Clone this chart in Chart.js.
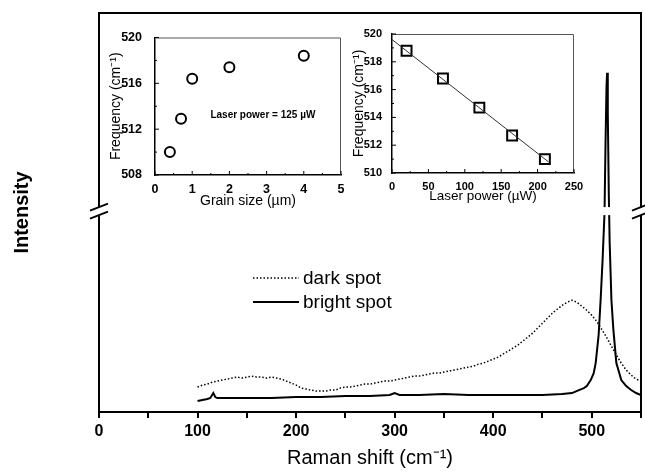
<!DOCTYPE html>
<html><head><meta charset="utf-8">
<script src="https://cdn.jsdelivr.net/npm/chart.js@4/dist/chart.umd.min.js"></script>
<style>
html,body{margin:0;padding:0;background:#fff;}
#wrap{position:relative;width:645px;height:472px;overflow:hidden;}
canvas{position:absolute;}
#main{left:0;top:0;}
#in1{left:100px;top:25px;}
#in2{left:340px;top:25px;}
</style></head><body>
<div id="wrap">
<canvas id="main" width="645" height="472" style="width:645px;height:472px"></canvas>
<canvas id="in1" width="250" height="190" style="width:250px;height:190px"></canvas>
<canvas id="in2" width="245" height="190" style="width:245px;height:190px"></canvas>
</div>
<script>
// ---------- DATA ----------
const ramanDark = [100,105,110,115,120,125,130,135,140,145,150,155,160,165,170,175,180,185,190,195,200,205,210,215,220,225,230,235,240,245,250,255,260,265,270,275,280,285,290,295,300,305,310,315,320,325,330,335,340,345,350,355,360,365,370,375,380,385,390,395,400,405,410,415,420,425,430,435,440,445,450,455,460,465,470,475,480,485,490,495,500,505,510,515,520,525,530,535,540,545,550];
const darkIntensity = [12.5,13.5,14,15,15.5,16,16.5,17,17.5,17,17.5,18,17.5,17.5,17,17.5,17,16.5,15.5,14.5,13.5,12,11.5,11,10.5,10.5,10.5,11,11,12,12.5,12.5,13,13.5,14,14,14.5,15,15.5,15.5,16,16.5,17,17.5,18,18,18.5,19,19.5,19.5,20,20.5,21,21.5,22,22.5,23,24,24.5,25.5,26.5,27.5,29,30.5,32,33.5,35.5,37.5,39.5,42,44.5,47,49.5,51.5,53.5,55,56,55,53,51,48.5,45.5,41.5,37.5,33,28.5,24.5,21,18.5,16.5,15.5];
const ramanBright = [100,105,110,113,116,118,120,130,150,175,200,225,250,275,295,300,305,325,350,375,400,425,450,470,480,487,492,495,499,502,504,507,509,511,513,514,515,515.6,516.3,517.3,518.2,520,522,525,530,535,540,545,550];
const brightIntensity = [5.5,6,6.5,7,9.5,7.5,7,7,7,7,7.5,7.5,8,8,8.5,9.5,8.5,8.5,9,8.5,8.5,8.5,8.5,9,9.5,11,12,13,16,19.5,24.5,38.5,56,76,100,135,163,170,150,110,85,56,41,24.5,16,13,11,9.5,8.5];
const seriesLabels = ['dark spot','bright spot'];
const xTickStep = 50;
const breakValue = 100.7;

const grainSize = [0.4,0.7,1.0,2.0,4.0];
const grainFreq = [510.0,512.9,516.4,517.4,518.4];
const annotText = 'Laser power = 125 \u00B5W';
const annotPos = [2.9, 513.2];

const laserPower = [20,70,120,165,210];
const laserFreq = [518.8,516.8,514.7,512.7,511.0];
const fitX = [0,215];
const fitY = [519.6,510.8];

const FONT = "'Liberation Sans', Arial, sans-serif";
const pts = (xs, ys) => xs.map((x,i)=>({x, y: ys[i]}));

// ---------- MAIN CHART ----------
const mainDecor = {
  id:'mainDecor',
  afterDatasetsDraw(chart){
    const {ctx, chartArea:a, scales:{y}} = chart;
    ctx.save();
    ctx.strokeStyle='#000'; ctx.lineWidth=2;
    ctx.strokeRect(a.left, a.top, a.right-a.left, a.bottom-a.top);
    const yb = y.getPixelForValue(breakValue);
    ctx.fillStyle='#fff';
    ctx.fillRect(a.left-12, yb-4, a.right-a.left+24, 8);
    ctx.lineWidth=2;
    [a.left, a.right].forEach(x=>{
      [yb-4, yb+4].forEach(c=>{
        ctx.beginPath(); ctx.moveTo(x-9, c+3.5); ctx.lineTo(x+9, c-3.5); ctx.stroke();
      });
    });
    // legend
    const lx = 253, ly = 278, gap = 24;
    chart.data.datasets.forEach((ds,i)=>{
      const yy = ly + i*gap;
      ctx.setLineDash(ds.borderDash||[]);
      ctx.lineWidth = ds.borderWidth;
      ctx.beginPath(); ctx.moveTo(lx, yy); ctx.lineTo(lx+46, yy); ctx.stroke();
      ctx.setLineDash([]);
      ctx.fillStyle='#000'; ctx.font = `19px ${FONT}`; ctx.textBaseline='middle';
      ctx.fillText(ds.label, lx+50, yy+1);
    });
    ctx.restore();
  }
};

new Chart(document.getElementById('main'), {
  type:'scatter',
  data:{datasets:[
    {label:seriesLabels[0], data:pts(ramanDark,darkIntensity), showLine:true, borderColor:'#000', borderWidth:1.5, borderDash:[1.5,2], pointRadius:0, tension:0},
    {label:seriesLabels[1], data:pts(ramanBright,brightIntensity), showLine:true, borderColor:'#000', borderWidth:2, pointRadius:0, tension:0}
  ]},
  options:{
    responsive:false, animation:false, devicePixelRatio:1,
    layout:{padding:{top:13,right:2,left:0,bottom:0}},
    plugins:{legend:{display:false}, tooltip:{enabled:false}},
    scales:{
      x:{type:'linear', min:0, max:550, afterFit(s){s.height=60;},
        border:{display:false},
        grid:{display:true, drawOnChartArea:false, drawTicks:true, tickLength:6, lineWidth:2, color:'#000'},
        ticks:{stepSize:xTickStep, autoSkip:false, maxRotation:0, padding:4, color:'#000',
          font:{family:FONT, size:16, weight:'bold'}, callback:v=> v%100===0 ? String(v) : ''},
        title:{display:true, text:'Raman shift (cm\u207B\u00B9)', color:'#000', font:{family:FONT, size:20}, padding:{top:0,bottom:2}}
      },
      y:{min:0, max:200, afterFit(s){s.width=99;}, border:{display:false}, grid:{display:false}, ticks:{display:false},
        title:{display:true, text:'Intensity', color:'#000', font:{family:FONT, size:20, weight:'bold'}, padding:{top:10,bottom:0}}
      }
    }
  },
  plugins:[mainDecor]
});

// ---------- INSETS ----------
function insetDecor(annot){
  return {
    id:'insetDecor',
    afterDraw(chart){
      const {ctx, chartArea:a, scales:{x,y}} = chart;
      ctx.save();
      ctx.strokeStyle='#555'; ctx.lineWidth=1;
      ctx.beginPath(); ctx.moveTo(a.left, a.top+0.5); ctx.lineTo(a.right-0.5, a.top+0.5); ctx.lineTo(a.right-0.5, a.bottom); ctx.stroke();
      ctx.strokeStyle='#000';
      const xt = x.ticks.map(t=>t.value), yt = y.ticks.map(t=>t.value);
      xt.forEach((v,i)=>{
        const px = x.getPixelForValue(v);
        ctx.beginPath(); ctx.moveTo(px, a.bottom); ctx.lineTo(px, a.bottom-4); ctx.stroke();
        if(i<xt.length-1){ const pm = x.getPixelForValue((v+xt[i+1])/2);
          ctx.beginPath(); ctx.moveTo(pm, a.bottom); ctx.lineTo(pm, a.bottom-2); ctx.stroke(); }
      });
      yt.forEach((v,i)=>{
        const py = y.getPixelForValue(v);
        ctx.beginPath(); ctx.moveTo(a.left, py); ctx.lineTo(a.left+4, py); ctx.stroke();
        if(i<yt.length-1){ const pm = y.getPixelForValue((v+yt[i+1])/2);
          ctx.beginPath(); ctx.moveTo(a.left, pm); ctx.lineTo(a.left+2, pm); ctx.stroke(); }
      });
      if(annot){
        ctx.fillStyle='#000'; ctx.font=`bold 10px ${FONT}`; ctx.textAlign='center'; ctx.textBaseline='middle';
        ctx.fillText(annot.text, x.getPixelForValue(annot.pos[0]), y.getPixelForValue(annot.pos[1]));
      }
      ctx.restore();
    }
  };
}
function insetScales(o){
  return {
    x:{type:'linear', min:o.xmin, max:o.xmax, afterFit(s){s.height=o.xh;},
      border:{display:true, color:'#000', width:1.5},
      grid:{display:false},
      ticks:{stepSize:o.xstep, autoSkip:false, maxRotation:0, padding:0, color:'#000', font:{family:FONT, size:o.tf, weight:'bold', lineHeight:1}},
      title:{display:true, text:o.xtitle, color:'#000', font:{family:FONT, size:o.titf}, padding:{top:0,bottom:o.xtp}}
    },
    y:{min:o.ymin, max:o.ymax, afterFit(s){s.width=o.yw;},
      border:{display:true, color:'#000', width:1.5},
      grid:{display:false},
      ticks:{stepSize:o.ystep, autoSkip:false, padding:o.ypad, color:'#000', font:{family:FONT, size:o.tf, weight:'bold'}},
      title:{display:true, text:'Frequency (cm\u207B\u00B9)', color:'#000', font:{family:FONT, size:14}, padding:{top:o.ytp,bottom:0}}
    }
  };
}

new Chart(document.getElementById('in1'), {
  type:'scatter',
  data:{datasets:[{data:pts(grainSize,grainFreq), pointStyle:'circle', pointRadius:5, pointBorderWidth:2, pointBorderColor:'#000', pointBackgroundColor:'rgba(0,0,0,0)'}]},
  options:{responsive:false, animation:false, devicePixelRatio:1,
    layout:{padding:{top:8,right:9,left:0,bottom:0}},
    plugins:{legend:{display:false}, tooltip:{enabled:false}},
    scales:insetScales({xmin:0,xmax:5,xstep:1,ymin:508,ymax:520,ystep:4,xh:40,yw:55,xtp:5.6,ytp:7.6,ypad:5,tf:12.5,titf:14,xtitle:'Grain size (\u00B5m)'})
  },
  plugins:[insetDecor({text:annotText,pos:annotPos})]
});

new Chart(document.getElementById('in2'), {
  type:'scatter',
  data:{datasets:[
    {data:pts(fitX,fitY), showLine:true, borderColor:'#333', borderWidth:1, pointRadius:0},
    {data:pts(laserPower,laserFreq), pointStyle:'rect', pointRadius:7, pointBorderWidth:2, pointBorderColor:'#000', pointBackgroundColor:'rgba(0,0,0,0)'}
  ]},
  options:{responsive:false, animation:false, devicePixelRatio:1,
    layout:{padding:{top:9,right:11,left:0,bottom:0}},
    plugins:{legend:{display:false}, tooltip:{enabled:false}},
    scales:insetScales({xmin:0,xmax:250,xstep:50,ymin:510,ymax:520,ystep:2,xh:42,yw:52,xtp:10.6,ytp:10.6,ypad:2,tf:11,titf:13.5,xtitle:'Laser power (\u00B5W)'})
  },
  plugins:[insetDecor(null)]
});
</script>
</body></html>
